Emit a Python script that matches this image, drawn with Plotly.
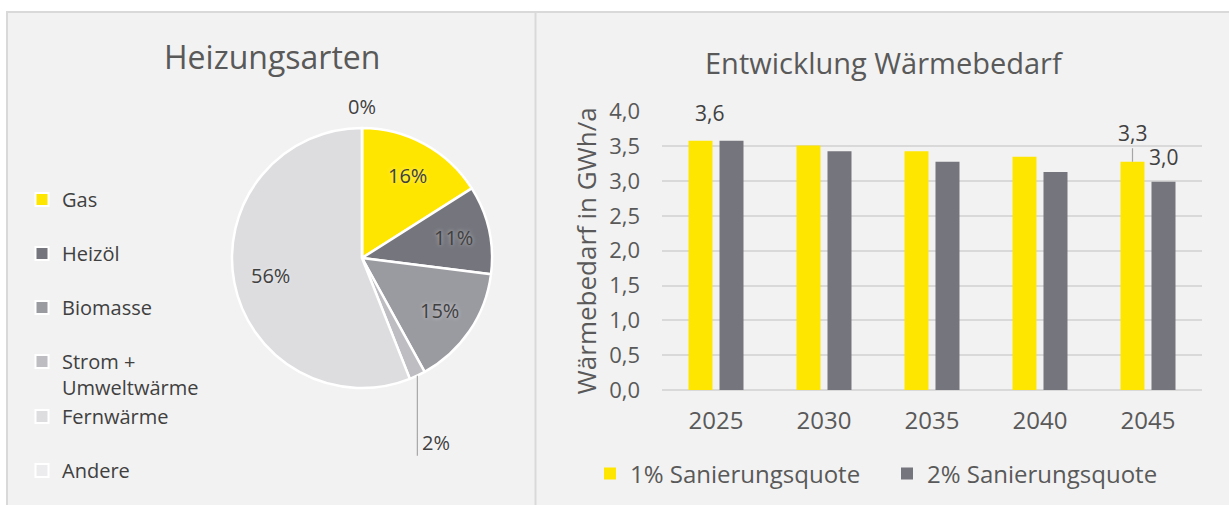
import math
import plotly.graph_objects as go

W, H = 1229, 505

# Heizungsarten: shares in percent
heiz_labels = ["Gas", "Heizöl", "Biomasse", "Strom +<br>Umweltwärme", "Fernwärme", "Andere"]
heiz_values = [16, 11, 15, 2, 56, 0]
heiz_colors = ["#FFE600", "#75757D", "#9A9AA1", "#BDBDC2", "#DDDDE0", "#ECECEE"]

# Wärmebedarf in GWh/a per scenario
years = ["2025", "2030", "2035", "2040", "2045"]
quote_1 = [3.58, 3.51, 3.43, 3.35, 3.28]
quote_2 = [3.58, 3.43, 3.28, 3.13, 2.99]
series_names = ["1% Sanierungsquote", "2% Sanierungsquote"]
series_colors = ["#FFE600", "#75757D"]
y_ticks = [0.0, 0.5, 1.0, 1.5, 2.0, 2.5, 3.0, 3.5, 4.0]

FONT = "Open Sans"
TITLE_GREY = "#595959"
TEXT_DARK = "#404040"
GRID = "#D9D9D9"
BARGAP = 0.426
BARGROUPGAP = 0.226


def px_x(x):
    return x / W


def px_y(y):
    return 1 - y / H


def fmt(v):
    return f"{v:.1f}".replace(".", ",")


def bar_center(cat_index, series_index, n_series=2):
    """x position (category units) of a bar's centre inside its group."""
    slot = (1 - BARGAP) / n_series
    return cat_index - (1 - BARGAP) / 2 + slot * (series_index + 0.5)


fig = go.Figure()

# ---- pie chart ----
PIE_CX, PIE_CY, PIE_R = 362, 258, 130
fig.add_trace(go.Pie(
    labels=heiz_labels,
    values=heiz_values,
    sort=False,
    direction="clockwise",
    rotation=0,
    marker=dict(colors=heiz_colors, line=dict(color="white", width=2.5)),
    textinfo="none",
    showlegend=False,
    domain=dict(x=[px_x(PIE_CX - PIE_R), px_x(PIE_CX + PIE_R)],
                y=[px_y(PIE_CY + PIE_R), px_y(PIE_CY - PIE_R)]),
    hovertemplate="%{label}: %{value}%<extra></extra>",
))

# ---- grouped bar chart ----
for name, vals, col in zip(series_names, [quote_1, quote_2], series_colors):
    fig.add_trace(go.Bar(
        x=years, y=vals, name=name, marker=dict(color=col, line=dict(width=0)),
        legend="legend2", xaxis="x", yaxis="y",
        hovertemplate="%{x}: %{y:.1f} GWh/a<extra>" + name + "</extra>",
    ))

# legend entries for the pie slices (on a hidden helper axis pair)
legend_groups = ["a", "b", "c", "d", "d", "e"]
for lab, col, grp in zip(heiz_labels, heiz_colors, legend_groups):
    fig.add_trace(go.Scatter(
        x=[None], y=[None], mode="markers", name=lab, legendgroup=grp,
        xaxis="x2", yaxis="y2",
        marker=dict(symbol="square", size=13, color=col, line=dict(color="white", width=2)),
        legend="legend", hoverinfo="skip",
    ))

shapes = [
    # panel background and frame
    dict(type="rect", xref="paper", yref="paper", layer="below",
         x0=px_x(7), x1=px_x(W + 10), y0=px_y(H + 10), y1=px_y(12),
         fillcolor="#F2F2F2", line=dict(color=GRID, width=2)),
    dict(type="line", xref="paper", yref="paper", layer="below",
         x0=px_x(535.5), x1=px_x(535.5), y0=px_y(H + 10), y1=px_y(12),
         line=dict(color=GRID, width=2)),
]

annotations = [
    dict(text="Heizungsarten", x=px_x(272), y=px_y(57), xref="paper", yref="paper",
         xanchor="center", yanchor="middle", showarrow=False,
         font=dict(family=FONT, size=32, color=TITLE_GREY)),
    dict(text="Entwicklung Wärmebedarf", x=px_x(884), y=px_y(62), xref="paper", yref="paper",
         xanchor="center", yanchor="middle", showarrow=False,
         font=dict(family=FONT, size=29, color=TITLE_GREY)),
]

# percentage labels: inside larger slices, outside the rim for tiny ones
pie_label_font = dict(family=FONT, size=20, color=TEXT_DARK,
                      shadow="0px 0px 4px rgba(255,255,255,0.55)")
total = sum(heiz_values)
cum = 0
for lab, v in zip(heiz_labels, heiz_values):
    theta = (cum + v / 2) / total * 2 * math.pi
    cum += v
    sx, sy = math.sin(theta), -math.cos(theta)
    if v >= 5:
        lx, ly = PIE_CX + 0.72 * PIE_R * sx, PIE_CY + 0.72 * PIE_R * sy
        annotations.append(dict(text=f"{v}%", x=px_x(lx), y=px_y(ly),
                                xref="paper", yref="paper", xanchor="center", yanchor="middle",
                                showarrow=False, font=pie_label_font))
        continue
    rx, ry = PIE_CX + PIE_R * sx, PIE_CY + PIE_R * sy
    if v > 0:
        shapes.append(dict(type="line", xref="paper", yref="paper",
                           x0=px_x(rx), x1=px_x(rx), y0=px_y(ry), y1=px_y(ry + 80),
                           line=dict(color="#A6A6A6", width=1.2)))
        annotations.append(dict(text=f"{v}%", x=px_x(rx + 3), y=px_y(ry + 67),
                                xref="paper", yref="paper", xanchor="left", yanchor="middle",
                                showarrow=False, font=pie_label_font))
    else:
        annotations.append(dict(text=f"{v}%", x=px_x(rx), y=px_y(ry - 6),
                                xref="paper", yref="paper", xanchor="center", yanchor="bottom",
                                showarrow=False, font=pie_label_font))

# value labels on selected bars (category axes take serial numbers for annotations)
bar_label_font = dict(family=FONT, size=21, color=TEXT_DARK)
first, last = 0, len(years) - 1
annotations.append(dict(text=fmt(quote_1[first]), x=bar_center(first, 0), y=quote_1[first],
                        xref="x", yref="y", xanchor="center", yanchor="middle",
                        xshift=9, yshift=28, showarrow=False, font=bar_label_font))
annotations.append(dict(text=fmt(quote_1[last]), x=bar_center(last, 0), y=quote_1[last],
                        xref="x", yref="y", showarrow=True, arrowhead=0, arrowwidth=1.2,
                        arrowcolor="#A6A6A6", ax=0, ay=-29, standoff=0, font=bar_label_font))
annotations.append(dict(text=fmt(quote_2[last]), x=bar_center(last, 1), y=quote_2[last],
                        xref="x", yref="y", xanchor="center", yanchor="middle",
                        yshift=25, showarrow=False, font=bar_label_font))

fig.update_layout(
    template="none",
    width=W, height=H,
    autosize=False,
    margin=dict(l=0, r=0, t=0, b=0, pad=0),
    paper_bgcolor="white",
    plot_bgcolor="rgba(0,0,0,0)",
    font=dict(family=FONT, color=TITLE_GREY),
    separators=",.",
    barmode="group",
    bargap=BARGAP,
    bargroupgap=BARGROUPGAP,
    shapes=shapes,
    annotations=annotations,
    xaxis=dict(domain=[px_x(662), px_x(1202)], type="category", showgrid=False,
               showline=False, zeroline=False, ticks="", automargin=False,
               tickfont=dict(family=FONT, size=24, color=TITLE_GREY),
               ticklabelstandoff=14, fixedrange=True),
    yaxis=dict(domain=[px_y(390), px_y(111.5)], range=[0, 4], tickvals=y_ticks,
               tickformat=".1f", showgrid=True, gridcolor=GRID, gridwidth=2,
               zeroline=True, zerolinecolor=GRID, zerolinewidth=2, showline=False,
               ticks="", ticklabelstandoff=21, automargin=False,
               tickfont=dict(family=FONT, size=22, color=TITLE_GREY),
               title=dict(text="Wärmebedarf in GWh/a", standoff=5,
                          font=dict(family=FONT, size=26, color=TITLE_GREY)),
               fixedrange=True),
    xaxis2=dict(domain=[0, 0.01], visible=False, automargin=False, fixedrange=True),
    yaxis2=dict(domain=[0, 0.01], visible=False, automargin=False, fixedrange=True),
    legend=dict(x=px_x(22), y=px_y(180), xanchor="left", yanchor="top",
                orientation="v", bgcolor="rgba(0,0,0,0)", tracegroupgap=25,
                valign="top", font=dict(family=FONT, size=20, color=TEXT_DARK)),
    legend2=dict(x=px_x(590), y=px_y(474), xanchor="left", yanchor="middle",
                 orientation="h", bgcolor="rgba(0,0,0,0)",
                 entrywidth=252, entrywidthmode="pixels",
                 font=dict(family=FONT, size=24, color=TITLE_GREY)),
)

fig.write_html("out.html", config={"displayModeBar": False})
